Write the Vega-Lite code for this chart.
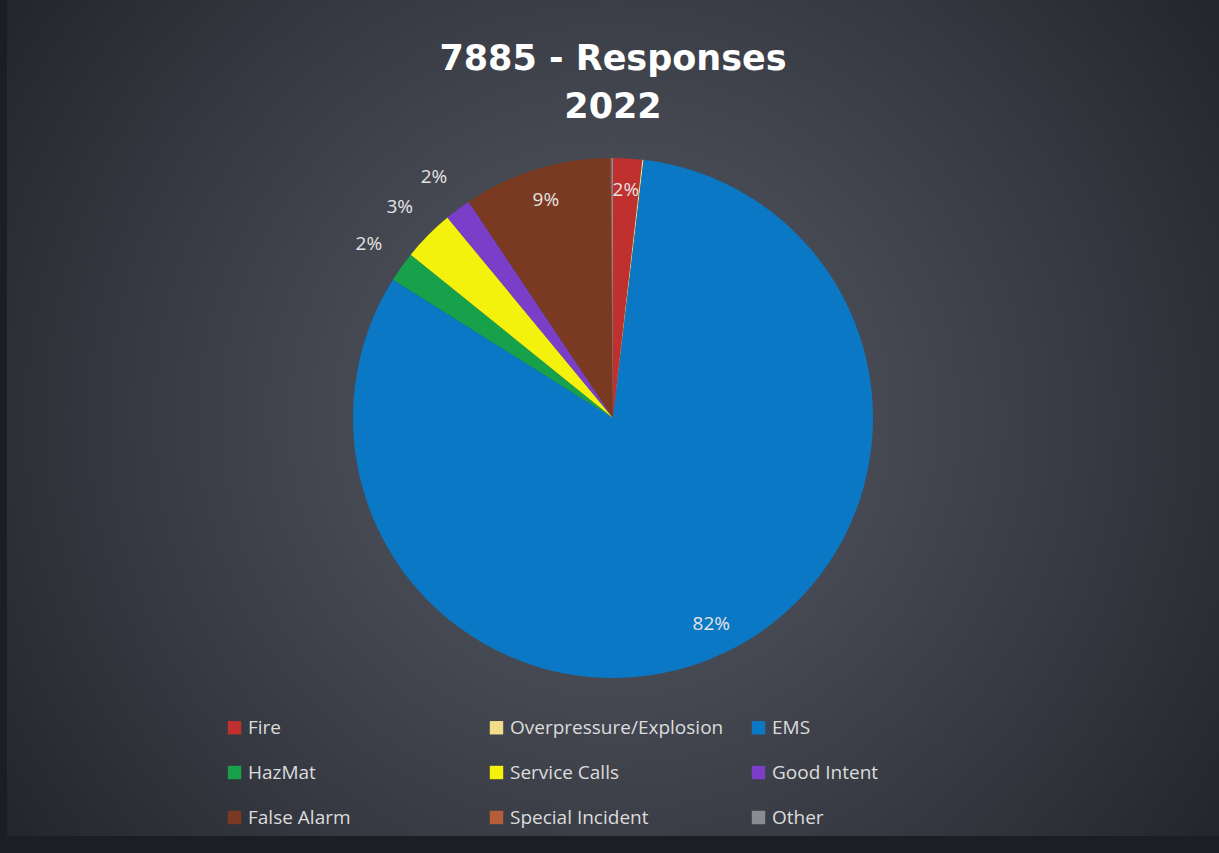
{
  "$schema": "https://vega.github.io/schema/vega-lite/v6.json",
  "autosize": "none",
  "width": 1212,
  "height": 836,
  "padding": {"left": 7, "top": 0, "right": 0, "bottom": 17},
  "background": "#1c1e24",
  "title": {
    "text": ["7885 - Responses", "2022"],
    "color": "#ffffff",
    "font": "DejaVu Sans",
    "fontSize": 35,
    "fontWeight": "bold",
    "lineHeight": 48,
    "anchor": "middle",
    "frame": "group",
    "offset": -125
  },
  "config": {
    "view": {"stroke": null},
    "legend": {
      "orient": "none",
      "legendX": 218,
      "legendY": 718,
      "direction": "horizontal",
      "columns": 3,
      "gridAlign": "all",
      "columnPadding": 25,
      "rowPadding": 25,
      "symbolType": "square",
      "symbolSize": 180,
      "symbolStrokeWidth": 0,
      "labelFont": "Open Sans",
      "labelFontSize": 19,
      "labelColor": "#dcdcdc",
      "labelOffset": 4,
      "labelLimit": 400,
      "title": null
    }
  },
  "data": {
    "values": [
      {"category": "Fire", "share": 0.018, "rank": 1},
      {"category": "Overpressure/Explosion", "share": 0.0008, "rank": 2},
      {"category": "EMS", "share": 0.8205, "rank": 3},
      {"category": "HazMat", "share": 0.0188, "rank": 4},
      {"category": "Service Calls", "share": 0.032, "rank": 5},
      {"category": "Good Intent", "share": 0.0162, "rank": 6},
      {"category": "False Alarm", "share": 0.0922, "rank": 7},
      {"category": "Special Incident", "share": 0.0006, "rank": 8},
      {"category": "Other", "share": 0.0009, "rank": 9}
    ]
  },
  "layer": [
    {
      "data": {"values": [{"bg": 1}]},
      "mark": {
        "type": "rect",
        "fill": {
          "gradient": "radial",
          "x1": 0.5, "y1": 0.5, "r1": 0,
          "x2": 0.5, "y2": 0.5, "r2": 0.75,
          "stops": [
            {"offset": 0, "color": "#585c67"},
            {"offset": 0.55, "color": "#353840"},
            {"offset": 1, "color": "#17181d"}
          ]
        }
      },
      "encoding": {}
    },
    {
      "mark": {"type": "arc", "outerRadius": 260},
      "encoding": {
        "theta": {"field": "share", "type": "quantitative", "stack": true},
        "order": {"field": "rank", "type": "quantitative"},
        "color": {
          "field": "category",
          "type": "nominal",
          "sort": ["Fire", "Overpressure/Explosion", "EMS", "HazMat", "Service Calls", "Good Intent", "False Alarm", "Special Incident", "Other"],
          "scale": {
            "domain": ["Fire", "Overpressure/Explosion", "EMS", "HazMat", "Service Calls", "Good Intent", "False Alarm", "Special Incident", "Other"],
            "range": ["#c0302e", "#f2dd8c", "#0a78c4", "#17a14a", "#f4f20c", "#7a3ec8", "#7a3a22", "#b65c38", "#8a8c92"]
          }
        }
      }
    },
    {
      "mark": {"type": "text", "radius": 228, "font": "Open Sans", "fontSize": 19, "color": "#e4e4e4"},
      "encoding": {
        "theta": {"field": "share", "type": "quantitative", "stack": true},
        "order": {"field": "rank", "type": "quantitative"},
        "text": {
          "condition": {"test": "indexof(['Fire','EMS','False Alarm'], datum.category) >= 0", "field": "share", "type": "quantitative", "format": ".0%"},
          "value": ""
        }
      }
    },
    {
      "mark": {"type": "text", "radius": 300, "font": "Open Sans", "fontSize": 19, "color": "#e4e4e4"},
      "encoding": {
        "theta": {"field": "share", "type": "quantitative", "stack": true},
        "order": {"field": "rank", "type": "quantitative"},
        "text": {
          "condition": {"test": "indexof(['HazMat','Service Calls','Good Intent'], datum.category) >= 0", "field": "share", "type": "quantitative", "format": ".0%"},
          "value": ""
        }
      }
    }
  ]
}
